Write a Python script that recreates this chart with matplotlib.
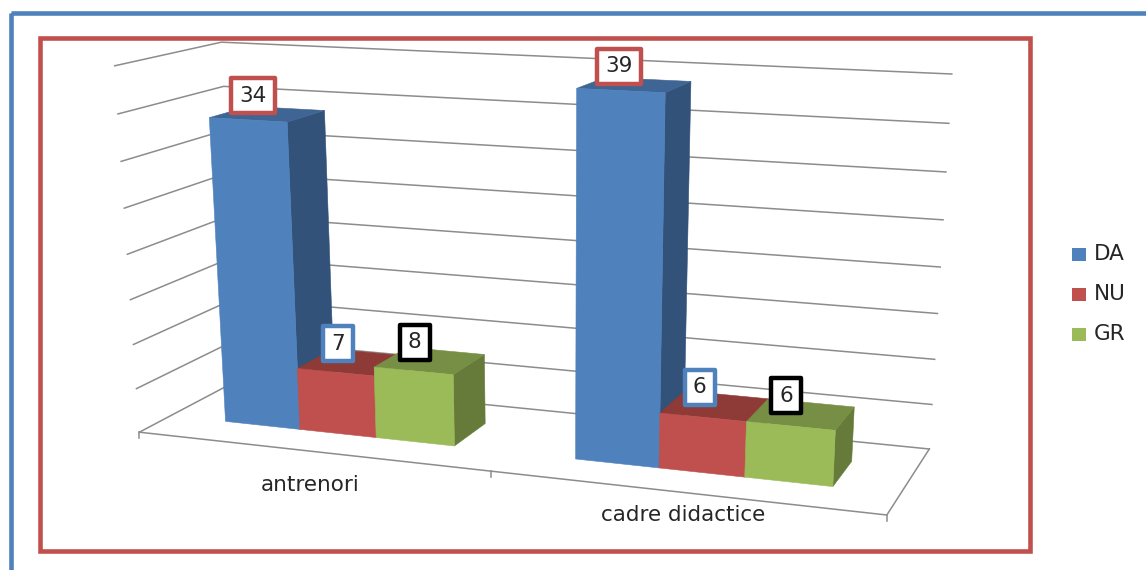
import matplotlib

matplotlib.use("Agg")
import matplotlib.pyplot as plt
import numpy as np
from matplotlib.patches import Polygon, Rectangle

CATEGORIES = ["antrenori", "cadre didactice"]
SERIES = ["DA", "NU", "GR"]
DA = [34, 39]
NU = [7, 6]
GR = [8, 6]
Y_MAX = 40
Y_STEP = 5

COLORS = {"DA": "#4F81BD", "NU": "#C0504D", "GR": "#9BBB59"}
TOP_COLORS = {"DA": "#3E6593", "NU": "#8E3A37", "GR": "#768F44"}
SIDE_COLORS = {"DA": "#32527A", "NU": "#7A302D", "GR": "#667B3A"}
LABEL_EDGES = {"DA": "#C0504D", "NU": "#4F81BD", "GR": "#000000"}
GRID = "#8C8C8C"
INK = "#262626"

GAP_WIDTH = 1.5  # in bar widths, shared out around each cluster
DEPTH_RANGE = (0.30, 0.69)
FONT = 15.5

# Box corners on the canvas: (t along categories, share of Y_MAX, depth) -> px
BOX_CORNERS = [
    ((0, 0, 0), (138, 432)),
    ((1, 0, 0), (887, 515)),
    ((0, 0, 1), (240, 380)),
    ((1, 0, 1), (929, 449)),
    ((0, 1, 1), (220, 42)),
    ((1, 1, 1), (952, 74)),
    ((0, 1, 0), (116, 66)),
]


def fit_camera(corners):
    """Projection matrix (3x4, last term 1) by least squares."""
    rows, rhs = [], []
    for (x, y, z), (u, v) in corners:
        rows.append([x, y, z, 1, 0, 0, 0, 0, -u * x, -u * y, -u * z])
        rows.append([0, 0, 0, 0, x, y, z, 1, -v * x, -v * y, -v * z])
        rhs += [u, v]
    sol = np.linalg.lstsq(np.array(rows, float), np.array(rhs, float), rcond=None)[0]
    return np.append(sol, 1.0).reshape(3, 4)


CAMERA = fit_camera(BOX_CORNERS)


def project(t, value, depth):
    p = CAMERA @ np.array([t, value / Y_MAX, depth, 1.0])
    return p[0] / p[2], p[1] / p[2]


def face(ax, points, color, zorder):
    ax.add_patch(Polygon(points, closed=True, facecolor=color, edgecolor=color,
                         linewidth=0.4, zorder=zorder))


fig = plt.figure(figsize=(11.46, 5.70), dpi=100)
ax = fig.add_axes([0, 0, 1, 1])
ax.set_xlim(0, 1146)
ax.set_ylim(570, 0)
ax.axis("off")

# outer frames
ax.add_patch(Rectangle((10.5, 13), 1300, 700, fill=False, edgecolor="#4F81BD",
                       linewidth=3.3, zorder=1))
ax.add_patch(Rectangle((40, 38), 990, 513, fill=False, edgecolor="#C0504D",
                       linewidth=3.3, zorder=1))

# walls and floor
for v in range(0, Y_MAX + 1, Y_STEP):
    pts = [project(0, v, 0), project(0, v, 1), project(1, v, 1)]
    ax.plot(*zip(*pts), color=GRID, lw=1.1, zorder=2)
floor = [project(0, 0, 0), project(1, 0, 0), project(1, 0, 1)]
ax.plot(*zip(*floor), color=GRID, lw=1.1, zorder=2)
for t in (0, 0.5, 1):
    px, py = project(t, 0, 0)
    ax.plot([px, px], [py, py + 6], color=GRID, lw=1.1, zorder=2)

# bars, left to right so each one hides the side of the previous
values = {"DA": DA, "NU": NU, "GR": GR}
cat_span = 1 / len(CATEGORIES)
bar_w = cat_span / (len(SERIES) + GAP_WIDTH)
z0, z1 = DEPTH_RANGE
order = 3
for c, cat in enumerate(CATEGORIES):
    start = c * cat_span + GAP_WIDTH * bar_w / 2
    for s, name in enumerate(SERIES):
        v = values[name][c]
        a, b = start + s * bar_w, start + (s + 1) * bar_w
        face(ax, [project(b, 0, z0), project(b, 0, z1), project(b, v, z1), project(b, v, z0)],
             SIDE_COLORS[name], order)
        face(ax, [project(a, v, z0), project(b, v, z0), project(b, v, z1), project(a, v, z1)],
             TOP_COLORS[name], order + 1)
        face(ax, [project(a, 0, z0), project(b, 0, z0), project(b, v, z0), project(a, v, z0)],
             COLORS[name], order + 2)
        order += 3

# value boxes sit up and to the left of each bar's top face
LABEL_SHIFT = (-15, -18.5)
for c, cat in enumerate(CATEGORIES):
    start = c * cat_span + GAP_WIDTH * bar_w / 2
    for s, name in enumerate(SERIES):
        v = values[name][c]
        px, py = project(start + (s + 0.5) * bar_w, v, (z0 + z1) / 2)
        px += LABEL_SHIFT[0]
        py += LABEL_SHIFT[1]
        w = 44 if v >= 10 else 30
        ax.add_patch(Rectangle((px - w / 2, py - 17.5), w, 35, facecolor="white",
                               edgecolor=LABEL_EDGES[name], linewidth=3.2,
                               joinstyle="round", zorder=100))
        ax.text(px, py, str(v), ha="center", va="center", fontsize=FONT,
                color=INK, zorder=101)

# category names under the floor
CAT_LABEL_DROP = [34, 23]
for c, cat in enumerate(CATEGORIES):
    px, py = project((c + 0.5) * cat_span, 0, 0)
    ax.text(px, py + CAT_LABEL_DROP[c], cat, ha="center", va="center",
            fontsize=FONT, color=INK, zorder=101)

# legend
for s, name in enumerate(SERIES):
    cy = 254.5 + 40 * s
    ax.add_patch(Rectangle((1072, cy - 6.5), 14, 13, facecolor=COLORS[name],
                           edgecolor="none", zorder=2))
    ax.text(1094, cy, name, ha="left", va="center", fontsize=FONT, color=INK)

fig.savefig("out.png", dpi=100)
